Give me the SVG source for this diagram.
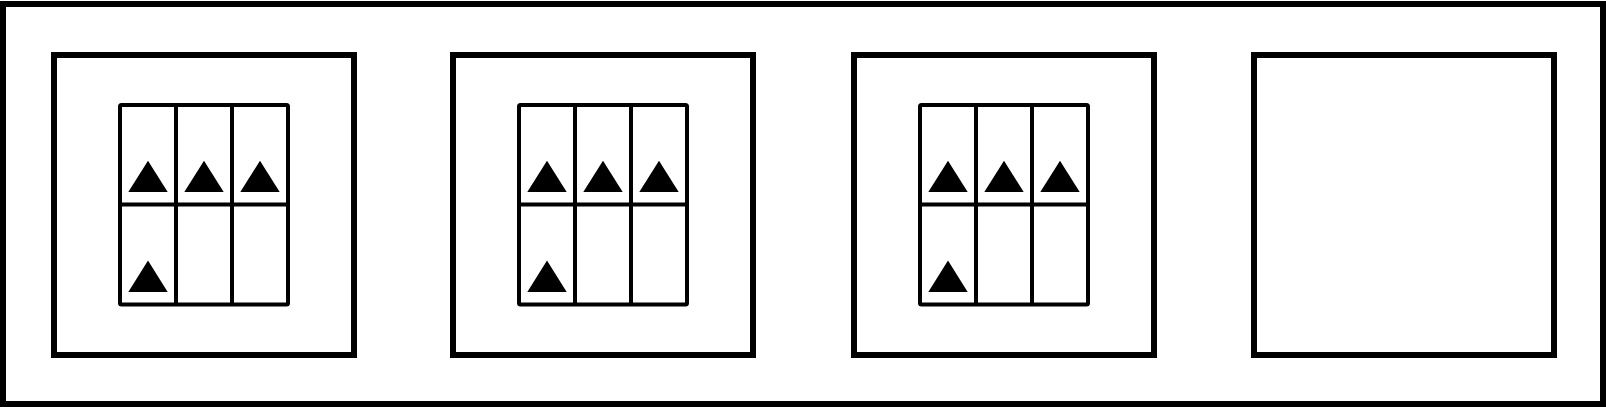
<svg xmlns="http://www.w3.org/2000/svg" xmlns:xlink="http://www.w3.org/1999/xlink" width="1606" height="407" viewBox="0 0 1606 407">
<style>
.frame{fill:#fff;stroke:#000;stroke-width:6}
.panel{fill:#fff;stroke:#000;stroke-width:6}
.grid{fill:none;stroke:#000;stroke-width:4;stroke-linejoin:round}
.tri{fill:#000}
</style>
<defs>
<g id="gridcontent">
<rect class="grid" x="0" y="0" width="168" height="199.5" rx="1.5"/>
<line class="grid" x1="56" y1="0" x2="56" y2="199.5"/>
<line class="grid" x1="112" y1="0" x2="112" y2="199.5"/>
<line class="grid" x1="0" y1="99.5" x2="168" y2="99.5"/>
<polygon class="tri" points="8.3,87 28,55.7 47.7,87"/>
<polygon class="tri" points="64.3,87 84,55.7 103.7,87"/>
<polygon class="tri" points="120.3,87 140,55.7 159.7,87"/>
<polygon class="tri" points="8.3,187 28,155.5 47.7,187"/>
</g>
</defs>
<rect id="frame" class="frame" x="3" y="4" width="1600" height="400"/>
<g id="panel1">
<rect class="panel" x="54" y="55" width="300" height="300"/>
<use xlink:href="#gridcontent" x="120" y="105"/>
</g>
<g id="panel2">
<rect class="panel" x="453" y="55" width="300" height="300"/>
<use xlink:href="#gridcontent" x="519" y="105"/>
</g>
<g id="panel3">
<rect class="panel" x="854" y="55" width="300" height="300"/>
<use xlink:href="#gridcontent" x="920" y="105"/>
</g>
<g id="panel4">
<rect class="panel" x="1254" y="55" width="300" height="300"/>
</g>
<g id="connectors"></g>
</svg>
